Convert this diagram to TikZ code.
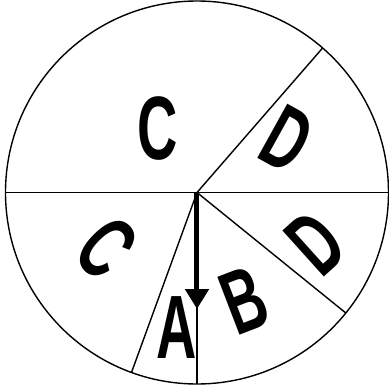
\documentclass[tikz,border=0pt]{standalone}
\usepackage{fontspec}
\usepackage{tikz}
\usetikzlibrary{arrows.meta}
\newfontfamily\spinfont{Liberation Sans}
\newcommand{\slimletter}[1]{\scalebox{0.62}[1]{#1}}

\begin{document}
\begin{tikzpicture}[x=1pt,y=1pt,
  rim/.style={line width=1.4pt},
  divider/.style={line width=1.4pt},
  letter/.style={font=\spinfont\bfseries\fontsize{90}{90}\selectfont, inner sep=0pt},
  pointer/.style={line width=5pt, -{Triangle[width=23pt,length=20pt]}}]
  \useasboundingbox (-197,-196.5) rectangle (192,192.5);
  \coordinate (hub) at (0,0);
  \coordinate (tip) at (0,-116.5);
  \draw[rim] (hub) circle (191.5);
  % sector borders
  \draw[divider] (180:191.5) -- (0:191.5);
  \foreach \a in {49,-39,-90,-110}
    \draw[divider] (hub) -- (\a:191.5);
  % sector letters
  \node[letter] (cTop) at (-39,63.5) {\slimletter{C}};
  \node[letter, rotate=-29] (dUpper) at (90,53.5) {\slimletter{D}};
  \node[letter, rotate=42] (dLower) at (119,-50.5) {\slimletter{D}};
  \node[letter, rotate=21] (b) at (47,-107.5) {\slimletter{B}};
  \node[letter, rotate=-45] (cLower) at (-90,-55.5) {\slimletter{C}};
  \node[letter] (a) at (-20,-135.5) {\slimletter{A}};
  % pointer
  \draw[pointer] (hub) -- (tip);
\end{tikzpicture}
\end{document}
